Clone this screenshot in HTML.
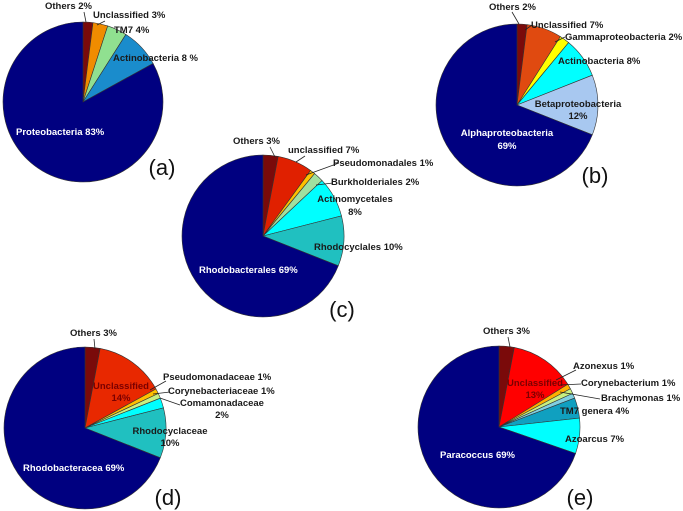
<!DOCTYPE html>
<html><head><meta charset="utf-8"><style>
html,body{margin:0;padding:0;background:#fff;}
svg{display:block;font-family:"Liberation Sans",sans-serif;}
.l{font-size:9.5px;font-weight:bold;fill:#1a1a1a;}
.w{font-size:9.5px;font-weight:bold;fill:#fff;}
.r{font-size:9.5px;font-weight:bold;fill:#7a0000;}
.p{font-size:22px;fill:#111;}
</style></head><body>
<svg id="fig" width="683" height="511" viewBox="0 0 683 511"></svg>
<script>
// Pie (a) phylum
const aCats=["Others","Unclassified","TM7","Actinobacteria","Proteobacteria"];
const aVals=[2,3,4,8,83];
// Pie (b) class
const bCats=["Others","Unclassified","Gammaproteobacteria","Actinobacteria","Betaproteobacteria","Alphaproteobacteria"];
const bVals=[2,7,2,8,12,69];
// Pie (c) order
const cCats=["Others","unclassified","Pseudomonadales","Burkholderiales","Actinomycetales","Rhodocyclales","Rhodobacterales"];
const cVals=[3,7,1,2,8,10,69];
// Pie (d) family
const dCats=["Others","Unclassified","Pseudomonadaceae","Corynebacteriaceae","Comamonadaceae","Rhodocyclaceae","Rhodobacteracea"];
const dVals=[3,14,1,1,2,10,69];
// Pie (e) genus
const eCats=["Others","Unclassified","Azonexus","Corynebacterium","Brachymonas","TM7 genera","Azoarcus","Paracoccus"];
const eVals=[3,13,1,1,1,4,7,69];

const NS="http://www.w3.org/2000/svg";
const svg=document.getElementById('fig');
function mk(tag,attrs,parent){const e=document.createElementNS(NS,tag);for(const k in attrs)e.setAttribute(k,attrs[k]);(parent||svg).appendChild(e);return e;}

const pies=[
 {id:'a',cats:aCats,vals:aVals,cx:83,cy:102,r:80,cols:["#7a0a0a","#f08c00","#90e090","#1a8ccc","#000080"]},
 {id:'b',cats:bCats,vals:bVals,cx:517,cy:105,r:81,cols:["#7a0a0a","#e04a10","#ffff00","#00ffff","#a8c8f0","#000080"]},
 {id:'c',cats:cCats,vals:cVals,cx:263,cy:236,r:81,cols:["#7a0a0a","#e02000","#ffc000","#a0e0a0","#00ffff","#20c0c0","#000080"]},
 {id:'d',cats:dCats,vals:dVals,cx:85,cy:428,r:81,cols:["#7a0a0a","#e82800","#ffc000","#c8f080","#00ffff","#20c0c0","#000080"]},
 {id:'e',cats:eCats,vals:eVals,cx:499,cy:427,r:81,cols:["#7a0a0a","#ff0000","#ffb000","#c8f080","#80d0e0","#10a0c0","#00ffff","#000080"]}
];
function angle(v,tot){return -Math.PI/2+v/tot*2*Math.PI;}
pies.forEach(p=>{
  const g=mk('g',{});
  
  
  const tot=p.vals.reduce((s,v)=>s+v,0);
  let acc=0;
  p.vals.forEach((v,i)=>{
    const a0=angle(acc,tot),a1=angle(acc+v,tot);acc+=v;
    const x0=p.cx+p.r*Math.cos(a0),y0=p.cy+p.r*Math.sin(a0);
    const x1=p.cx+p.r*Math.cos(a1),y1=p.cy+p.r*Math.sin(a1);
    const large=(a1-a0)>Math.PI?1:0;
    const path=mk('path',{d:`M${p.cx},${p.cy}L${x0},${y0}A${p.r},${p.r} 0 ${large} 1 ${x1},${y1}Z`,fill:p.cols[i],stroke:'#333','stroke-width':0.6},g);
    
    
  });
});

// labels: [text, x, y, class, anchor]
const labels=[
 ["Others 2%",45,9,'l','start'],["Unclassified 3%",93,18,'l','start'],["TM7 4%",114,33,'l','start'],["Actinobacteria 8 %",113,61,'l','start'],["Proteobacteria 83%",16,135,'w','start'],
 ["Others 2%",489,10,'l','start'],["Unclassified 7%",531,28,'l','start'],["Gammaproteobacteria 2%",565,40,'l','start'],["Actinobacteria 8%",558,64,'l','start'],["Betaproteobacteria",578,107,'l','middle'],["12%",578,119,'l','middle'],["Alphaproteobacteria",507,136,'w','middle'],["69%",507,149,'w','middle'],
 ["Others 3%",233,144,'l','start'],["unclassified 7%",288,153,'l','start'],["Pseudomonadales 1%",333,166,'l','start'],["Burkholderiales 2%",331,185,'l','start'],["Actinomycetales",355,202,'l','middle'],["8%",355,215,'l','middle'],["Rhodocyclales 10%",314,250,'l','start'],["Rhodobacterales 69%",199,273,'w','start'],
 ["Others 3%",70,336,'l','start'],["Unclassified",121,389,'r','middle'],["14%",121,401,'r','middle'],["Pseudomonadaceae 1%",163,380,'l','start'],["Corynebacteriaceae 1%",168,394,'l','start'],["Comamonadaceae",180,406,'l','start'],["2%",222,418,'l','middle'],["Rhodocyclaceae",170,434,'l','middle'],["10%",170,446,'l','middle'],["Rhodobacteracea 69%",23,471,'w','start'],
 ["Others 3%",483,334,'l','start'],["Unclassified",535,386,'r','middle'],["13%",535,398,'r','middle'],["Azonexus 1%",573,369,'l','start'],["Corynebacterium 1%",581,386,'l','start'],["Brachymonas 1%",601,401,'l','start'],["TM7 genera 4%",560,414,'l','start'],["Azoarcus 7%",565,442,'l','start'],["Paracoccus 69%",440,458,'w','start'],
 ["(a)",162,175,'p','middle'],["(b)",595,183,'p','middle'],["(c)",342,317,'p','middle'],["(d)",168,505,'p','middle'],["(e)",580,505,'p','middle']
];
labels.forEach(l=>{
  const t=mk('text',{x:l[1],y:l[2],class:l[3],'text-anchor':l[4]});
  t.textContent=l[0];
  
  
});
// leader lines
const leaders=[[84,12,86,22],[105,21,97,25],[270,147,275,157],[305,156,296,162],[339,163,306,175],[333,183,316,185],[94,339,95,349],[166,381,150,390],[170,392,153,394],[180,405,160,398],[508,337,510,347],[576,370,556,380],[581,384,560,385],[600,399,560,392],[512,12,519,24],[532,25,525,30],[565,37,555,42]];
leaders.forEach(d=>{
  const ln=mk('line',{x1:d[0],y1:d[1],x2:d[2],y2:d[3],stroke:'#222','stroke-width':0.8});
  
  
});
</script>
</body></html>
